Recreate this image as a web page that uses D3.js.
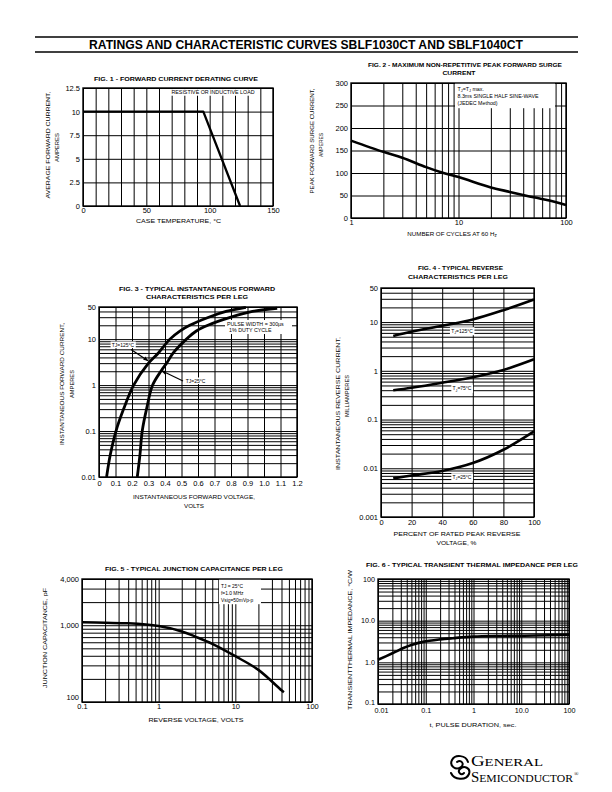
<!DOCTYPE html>
<html><head><meta charset="utf-8">
<script src="https://cdn.jsdelivr.net/npm/d3@7"></script>
<style>
body{margin:0;background:#fff;}
svg{display:block;}
</style></head><body>
<svg id="c" width="612" height="792"></svg>
<script>
// ================= DATA =================
const pageTitle = "RATINGS AND CHARACTERISTIC CURVES SBLF1030CT AND SBLF1040CT";

// Fig 1 - forward current derating
const fig1Temp = [0, 95, 124];
const fig1Current = [10, 10, 0];
const fig1XTicks = [0, 50, 100, 150];
const fig1YTicks = [0, 2.5, 5, 7.5, 10, 12.5];
const fig1XGrid = [0, 10, 20, 30, 40, 50, 60, 70, 80, 90, 100, 110, 120, 130, 140, 150];
const fig1YGrid = [0, 2.5, 5, 7.5, 10, 12.5];

// Fig 2 - peak forward surge current
const fig2Cycles = [1, 2, 3, 5, 7, 10, 20, 30, 50, 70, 100];
const fig2Surge = [172, 147, 134, 113, 101, 91, 68, 58, 46, 39, 29];
const fig2XTicks = [1, 10, 100];
const fig2YTicks = [0, 50, 100, 150, 200, 250, 300];

// Fig 3 - instantaneous forward characteristics
const fig3V125 = [0.046, 0.068, 0.103, 0.149, 0.21, 0.30, 0.36, 0.43, 0.49, 0.55, 0.665, 0.77, 0.89];
const fig3I125 = [0.01, 0.03, 0.1, 0.3, 1, 3, 5, 10, 15, 20, 30, 40, 49];
const fig3V25 = [0.232, 0.248, 0.262, 0.288, 0.325, 0.375, 0.41, 0.45, 0.53, 0.59, 0.66, 0.80, 0.93, 1.08];
const fig3I25 = [0.01, 0.03, 0.1, 0.3, 1, 2, 3, 5, 10, 15, 20, 30, 40, 47];
const fig3XTicks = [0, 0.1, 0.2, 0.3, 0.4, 0.5, 0.6, 0.7, 0.8, 0.9, 1.0, 1.1, 1.2];
const fig3XLabels = ["0", "0.1", "0.2", "0.3", "0.4", "0.5", "0.6", "0.7", "0.8", "0.9", "1.0", "1.1", "1.2"];
const fig3YTicks = [0.01, 0.1, 1, 10, 50];
const fig3YLabels = ["0.01", "0.1", "1", "10", "50"];

// Fig 4 - reverse characteristics
const fig4Pct = [8, 20, 40, 60, 80, 100];
const fig4I125 = [5.2, 6.3, 8.4, 11.3, 17.5, 29];
const fig4I75 = [0.40, 0.45, 0.57, 0.74, 1.04, 1.72];
const fig4I25 = [0.0062, 0.0071, 0.0088, 0.0128, 0.024, 0.057];
const fig4XTicks = [0, 20, 40, 60, 80, 100];
const fig4YTicks = [0.001, 0.01, 0.1, 1, 10, 50];
const fig4YLabels = ["0.001", "0.01", "0.1", "1", "10", "50"];

// Fig 5 - junction capacitance
const fig5V = [0.1, 0.2, 0.4, 1, 2, 3, 5, 10, 20, 40, 43];
const fig5C = [1090, 1075, 1060, 975, 830, 710, 572, 395, 262, 142, 134];
const fig5XTicks = [0.1, 1, 10, 100];
const fig5XLabels = ["0.1", "1", "10", "100"];
const fig5YTicks = [100, 1000, 4000];
const fig5YLabels = ["100", "1,000", "4,000"];

// Fig 6 - transient thermal impedance
const fig6T = [0.01, 0.02, 0.034, 0.05, 0.088, 0.2, 0.37, 1, 4, 20, 100];
const fig6Z = [1.15, 1.65, 2.2, 2.6, 3.1, 3.55, 3.8, 4.15, 4.3, 4.4, 4.6];
const fig6XTicks = [0.01, 0.1, 1, 10, 100];
const fig6XLabels = ["0.01", "0.1", "1", "10.0", "100"];
const fig6YTicks = [0.1, 1, 10, 100];
const fig6YLabels = ["0.1", "1.0", "10.0", "100"];

// ================= DRAWING =================
const FONT = "'Liberation Sans', Arial, Helvetica, sans-serif";
const svg = d3.select("#c");
svg.append("rect").attr("width", 612).attr("height", 792).attr("fill", "#fff");

function htext(x, y, s, o = {}) {
  const size = o.size || 6.2;
  const t = svg.append("text").attr("x", x).attr("y", y + size * 0.36)
    .attr("font-size", size).attr("font-family", FONT)
    .attr("font-weight", o.bold ? "bold" : "normal")
    .attr("text-anchor", o.anchor || "middle").attr("fill", "#000").text(s);
  if (o.len) t.attr("textLength", o.len).attr("lengthAdjust", "spacingAndGlyphs");
  return t;
}
function vtext(x, y, s, o = {}) {
  const size = o.size || 6.2;
  const t = svg.append("text")
    .attr("transform", `translate(${x + size * 0.36},${y}) rotate(-90)`)
    .attr("font-size", size).attr("font-family", FONT)
    .attr("text-anchor", "middle").attr("fill", "#000").text(s);
  if (o.len) t.attr("textLength", o.len).attr("lengthAdjust", "spacingAndGlyphs");
  return t;
}
// text with subscript parts, optional white box behind
function rich(g, x, y, parts, size, anchor, box) {
  const grp = g.append("g");
  const t = grp.append("text").attr("x", x).attr("y", y + size * 0.36)
    .attr("font-size", size).attr("font-family", FONT)
    .attr("text-anchor", anchor || "middle").attr("fill", "#000");
  let shifted = false;
  parts.forEach(p => {
    const ts = t.append("tspan").text(p[0]);
    if (p[1] === "sub") { ts.attr("font-size", size * 0.72).attr("dy", size * 0.28); shifted = true; }
    else if (shifted) { ts.attr("dy", -size * 0.28); shifted = false; }
  });
  if (box) {
    const b = t.node().getBBox();
    grp.insert("rect", "text").attr("x", b.x - 1.2).attr("y", b.y - 0.3)
      .attr("width", b.width + 2.4).attr("height", b.height + 0.6).attr("fill", "#fff");
  }
  return t;
}

function panel(o) {
  const [x0, x1, y0, y1] = o.box;
  const x = o.xScale.range([x0, x1]);
  const y = o.yScale.range([y1, y0]);
  const g = svg.append("g");
  // grid
  const gx = g.append("g").attr("transform", `translate(0,${y1})`)
    .call(d3.axisBottom(x).tickValues(o.xGrid).tickSize(-(y1 - y0)).tickFormat(""));
  gx.select(".domain").remove();
  gx.selectAll("line").attr("stroke", "#000").attr("stroke-width", o.gw || 1);
  const gy = g.append("g").attr("transform", `translate(${x0},0)`)
    .call(d3.axisLeft(y).tickValues(o.yGrid).tickSize(-(x1 - x0)).tickFormat(""));
  gy.select(".domain").remove();
  gy.selectAll("line").attr("stroke", "#000").attr("stroke-width", o.gw || 1);
  // frame
  g.append("rect").attr("x", x0).attr("y", y0).attr("width", x1 - x0).attr("height", y1 - y0)
    .attr("fill", "none").attr("stroke", "#000").attr("stroke-width", 1.4);
  // tick labels
  const ax = g.append("g").attr("transform", `translate(0,${y1})`)
    .call(d3.axisBottom(x).tickValues(o.xTicks).tickSize(0).tickPadding(o.xPad || 3)
      .tickFormat((d, i) => o.xLabels ? o.xLabels[i] : String(d)));
  ax.select(".domain").remove();
  ax.selectAll("text").attr("font-size", o.fs || 7.5).attr("font-family", FONT).attr("fill", "#000");
  if (o.shiftFirstX) ax.selectAll(".tick").filter((d, i) => i === 0).select("text").attr("dx", o.shiftFirstX + "em");
  const ay = g.append("g").attr("transform", `translate(${x0},0)`)
    .call(d3.axisLeft(y).tickValues(o.yTicks).tickSize(0).tickPadding(o.yPad || 3)
      .tickFormat((d, i) => o.yLabels ? o.yLabels[i] : String(d)));
  ay.select(".domain").remove();
  ay.selectAll("text").attr("font-size", o.fs || 7.5).attr("font-family", FONT).attr("fill", "#000");
  // optionally raise the lowest y label (as printed in the original)
  if (o.raiseBottom) ay.selectAll(".tick").filter((d, i) => i === 0).select("text").attr("dy", (0.32 - o.raiseBottom) + "em");
  return { x, y, g };
}

function curve(p, xs, ys, w, interp) {
  const line = d3.line().x(d => p.x(d[0])).y(d => p.y(d[1])).curve(interp || d3.curveCatmullRom.alpha(0.5));
  p.g.append("path").datum(xs.map((v, i) => [v, ys[i]]))
    .attr("d", line).attr("fill", "none").attr("stroke", "#000")
    .attr("stroke-width", w || 2.6).attr("stroke-linejoin", "round");
}

// ---- Page title ----
svg.append("line").attr("x1", 35).attr("x2", 578).attr("y1", 37).attr("y2", 37).attr("stroke", "#000").attr("stroke-width", 1.3);
svg.append("line").attr("x1", 35).attr("x2", 578).attr("y1", 52).attr("y2", 52).attr("stroke", "#000").attr("stroke-width", 1.3);
htext(306, 44.5, pageTitle, { size: 12.5, bold: true, len: 434 });

// ---- FIG 1 ----
const p1 = panel({
  box: [83, 273, 88, 206],
  xScale: d3.scaleLinear().domain([0, 150]), yScale: d3.scaleLinear().domain([0, 12.5]),
  xGrid: fig1XGrid, yGrid: fig1YGrid, xTicks: fig1XTicks, yTicks: fig1YTicks,
  yLabels: ["0", "2.5", "5", "7.5", "10", "12.5"], xPad: 2
});
rich(p1.g, 213, 92.5, [["RESISTIVE OR INDUCTIVE LOAD"]], 5.3, "middle", true);
curve(p1, fig1Temp, fig1Current, 2.3, d3.curveLinear);
htext(176, 78.5, "FIG. 1 - FORWARD CURRENT DERATING CURVE", { size: 6, bold: true, len: 164 });
vtext(47.5, 145, "AVERAGE FORWARD CURRENT,", { len: 107 });
vtext(56.5, 147.5, "AMPERES", { len: 29 });
htext(178.5, 221, "CASE TEMPERATURE, \u00B0C", { len: 85 });

// ---- FIG 2 ----
const p2 = panel({
  box: [351, 566, 83, 218],
  xScale: d3.scaleLog().domain([1, 100]), yScale: d3.scaleLinear().domain([0, 300]),
  xGrid: d3.scaleLog().domain([1, 100]).ticks(), yGrid: fig2YTicks,
  xTicks: fig2XTicks, yTicks: fig2YTicks, xPad: 2
});
{
  const lg = p2.g.append("g");
  lg.append("rect").attr("x", 455).attr("y", 83.7).attr("width", 100).attr("height", 24.5).attr("fill", "#fff");
  rich(lg, 457.5, 89, [["T"], ["J", "sub"], ["=T"], ["J", "sub"], [" max."]], 5.3, "start");
  rich(lg, 457.5, 96.5, [["8.3ms SINGLE HALF SINE-WAVE"]], 5.3, "start");
  rich(lg, 457.5, 103.5, [["(JEDEC Method)"]], 5.3, "start");
}
curve(p2, fig2Cycles, fig2Surge, 2.6);
htext(465, 64.5, "FIG. 2 - MAXIMUM NON-REPETITIVE PEAK FORWARD SURGE", { size: 6, bold: true, len: 194 });
htext(459, 72.5, "CURRENT", { size: 6, bold: true, len: 33 });
vtext(311.5, 141, "PEAK FORWARD SURGE  CURRENT,", { len: 105 });
vtext(320.5, 145, "AMPERES", { len: 24 });
{
  const t = htext(452, 233.7, "NUMBER OF CYCLES AT 60 H", { anchor: "middle" });
  t.append("tspan").attr("font-size", 4.6).attr("dy", 1).text("z");
}

// ---- FIG 3 ----
const p3 = panel({
  box: [99, 297, 307, 477],
  xScale: d3.scaleLinear().domain([0, 1.2]), yScale: d3.scaleLog().domain([0.01, 50]),
  xGrid: fig3XTicks, yGrid: d3.scaleLog().domain([0.01, 50]).ticks(),
  xTicks: fig3XTicks, xLabels: fig3XLabels, yTicks: fig3YTicks, yLabels: fig3YLabels, xPad: 4
});
{
  const lg = p3.g.append("g");
  lg.append("rect").attr("x", 225).attr("y", 320).attr("width", 67).attr("height", 14).attr("fill", "#fff");
  rich(lg, 227, 324.5, [["PULSE WIDTH = 300\u00B5s"]], 5.3, "start");
  rich(lg, 229, 330.5, [["1% DUTY CYCLE"]], 5.3, "start");
}
curve(p3, fig3V125, fig3I125, 2.8);
curve(p3, fig3V25, fig3I25, 2.8);
// annotations with arrows
svg.append("defs").append("marker").attr("id", "arr").attr("viewBox", "0 0 10 10")
  .attr("refX", 9).attr("refY", 5).attr("markerWidth", 5).attr("markerHeight", 5)
  .attr("orient", "auto").attr("markerUnits", "userSpaceOnUse")
  .append("path").attr("d", "M0,1 L10,5 L0,9 z").attr("fill", "#000");
rich(p3.g, 123, 345, [["TJ=125\u00B0C"]], 5, "middle", true);
p3.g.append("line").attr("x1", 131).attr("y1", 349.5).attr("x2", p3.x(0.297)).attr("y2", p3.y(3.4))
  .attr("stroke", "#000").attr("stroke-width", 1.2).attr("marker-end", "url(#arr)");
rich(p3.g, 195.5, 381, [["TJ=25\u00B0C"]], 5, "middle", true);
p3.g.append("line").attr("x1", 183).attr("y1", 381).attr("x2", p3.x(0.38)).attr("y2", p3.y(2.05))
  .attr("stroke", "#000").attr("stroke-width", 1.2).attr("marker-end", "url(#arr)");
htext(197, 288.5, "FIG. 3 - TYPICAL INSTANTANEOUS FORWARD", { size: 6, bold: true, len: 156 });
htext(197, 297, "CHARACTERISTICS PER LEG", { size: 6, bold: true, len: 102 });
vtext(61.5, 384, "INSTANTANEOUS FORWARD CURRENT,", { len: 122 });
vtext(72, 384, "AMPERES", { len: 28 });
htext(194, 497, "INSTANTANEOUS FORWARD VOLTAGE,", { len: 122 });
htext(194, 506, "VOLTS", { len: 20 });

// ---- FIG 4 ----
const p4 = panel({
  box: [381, 534, 288, 517],
  xScale: d3.scaleLinear().domain([0, 100]), yScale: d3.scaleLog().domain([0.001, 50]),
  xGrid: fig4XTicks, yGrid: d3.scaleLog().domain([0.001, 50]).ticks(),
  xTicks: fig4XTicks, yTicks: fig4YTicks, yLabels: fig4YLabels, xPad: 3
});
curve(p4, fig4Pct, fig4I125, 2.6);
curve(p4, fig4Pct, fig4I75, 2.6);
curve(p4, fig4Pct, fig4I25, 2.6);
rich(p4.g, 462, 330.7, [["T"], ["J", "sub"], ["=125\u00B0C"]], 5, "middle", true);
rich(p4.g, 462, 388.3, [["T"], ["J", "sub"], ["=75\u00B0C"]], 5, "middle", true);
rich(p4.g, 462, 476.7, [["T"], ["J", "sub"], ["=25\u00B0C"]], 5, "middle", true);
htext(460.5, 268.3, "FIG. 4 - TYPICAL REVERSE", { size: 6, bold: true, len: 85 });
htext(458, 277.3, "CHARACTERISTICS PER LEG", { size: 6, bold: true, len: 100 });
vtext(338, 403.5, "INSTANTANEOUS REVERSE CURRENT,", { len: 133 });
vtext(346.5, 396, "MILLIAMPERES", { len: 42 });
htext(457, 534, "PERCENT OF RATED PEAK REVERSE", { len: 127 });
htext(456.5, 542.7, "VOLTAGE, %", { len: 40 });

// ---- FIG 5 ----
const p5 = panel({
  box: [82, 312, 579, 702],
  xScale: d3.scaleLog().domain([0.1, 100]), yScale: d3.scaleLog().domain([100, 4000]),
  xGrid: d3.scaleLog().domain([0.1, 100]).ticks(), yGrid: d3.scaleLog().domain([100, 4000]).ticks(),
  xTicks: fig5XTicks, xLabels: fig5XLabels, yTicks: fig5YTicks, yLabels: fig5YLabels, xPad: 2,
  raiseBottom: 0.65
});
{
  const lg = p5.g.append("g");
  lg.append("rect").attr("x", 219).attr("y", 579.7).attr("width", 42).attr("height", 24.5).attr("fill", "#fff");
  rich(lg, 221, 586.2, [["TJ = 25\u00B0C"]], 4.9, "start");
  rich(lg, 221, 593.2, [["f=1.0 MHz"]], 4.9, "start");
  rich(lg, 221, 600.2, [["Vsig=50mVp-p"]], 4.9, "start");
}
curve(p5, fig5V, fig5C, 2.5);
htext(194, 569.3, "FIG. 5 - TYPICAL JUNCTION CAPACITANCE PER LEG", { size: 6, bold: true, len: 178 });
vtext(45, 638, "JUNCTION CAPACITANCE, pF", { len: 100 });
htext(196, 719.3, "REVERSE VOLTAGE, VOLTS", { len: 95 });

// ---- FIG 6 ----
const p6 = panel({
  box: [378, 569, 579, 704],
  xScale: d3.scaleLog().domain([0.01, 100]), yScale: d3.scaleLog().domain([0.1, 100]),
  xGrid: d3.scaleLog().domain([0.01, 100]).ticks(), yGrid: d3.scaleLog().domain([0.1, 100]).ticks(),
  xTicks: fig6XTicks, xLabels: fig6XLabels, yTicks: fig6YTicks, yLabels: fig6YLabels, xPad: 3.5,
  raiseBottom: 0.3, fs: 7.2, shiftFirstX: 0.4
});
curve(p6, fig6T, fig6Z, 2.6);
htext(472, 565, "FIG. 6 - TYPICAL TRANSIENT THERMAL IMPEDANCE PER LEG", { size: 6, bold: true, len: 212 });
vtext(350, 640, "TRANSIENTTHERMAL IMPEDANCE, \u00B0C/W", { len: 140 });
htext(473, 724.3, "t, PULSE DURATION, sec.", { len: 87 });

// ---- Logo ----
{
  const lg = svg.append("g").attr("transform", "translate(0,10)");
  lg.append("path")
    .attr("d", "M468,752 C466,745 455,744 452,750 C449,756 456,761 461,757 C465,754 461,749 457,752 " +
      "M451,763 C454,770 466,771 469,764 C471,758 464,755 460,759 C457,762 461,766 464,763")
    .attr("fill", "none").attr("stroke", "#000").attr("stroke-width", 2).attr("stroke-linecap", "round");
  const SERIF = "'Liberation Serif', 'Times New Roman', serif";
  const t1 = lg.append("text").attr("x", 471).attr("y", 756).attr("font-family", SERIF).attr("fill", "#000")
    .attr("textLength", 72).attr("lengthAdjust", "spacingAndGlyphs");
  t1.append("tspan").attr("font-size", 14).text("G");
  t1.append("tspan").attr("font-size", 11).text("ENERAL");
  const t2 = lg.append("text").attr("x", 471).attr("y", 772).attr("font-family", SERIF).attr("fill", "#000")
    .attr("textLength", 102).attr("lengthAdjust", "spacingAndGlyphs");
  t2.append("tspan").attr("font-size", 14).text("S");
  t2.append("tspan").attr("font-size", 11).text("EMICONDUCTOR");
  lg.append("text").attr("x", 574).attr("y", 766).attr("font-family", SERIF).attr("font-size", 6).text("\u00AE");
}
</script></body></html>
